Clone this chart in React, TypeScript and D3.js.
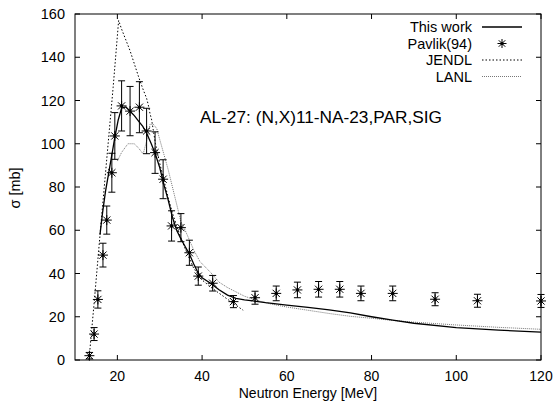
import React from "react";
import * as d3 from "d3";

// Pavlik (1994) measurement: energy [MeV], cross section [mb], uncertainty [mb]
const pavlikE = [13.4, 14.5, 15.4, 16.6, 17.5, 18.7, 19.4, 21.0, 23.0, 25.2, 26.9, 28.9, 30.8, 32.8, 35.0, 37.0, 39.1, 42.5, 47.4, 52.5, 57.5, 62.5, 67.5, 72.5, 77.5, 85.0, 95.0, 105.0, 120.0];
const pavlikSig = [2.0, 12.0, 28.0, 48.5, 64.7, 86.6, 103.6, 117.5, 115.1, 116.9, 105.9, 95.9, 83.6, 62.0, 61.2, 49.6, 38.8, 35.5, 27.0, 28.8, 30.8, 32.4, 32.7, 32.7, 30.8, 30.8, 28.1, 27.4, 27.3];
const pavlikErr = [1.5, 3.0, 4.0, 5.5, 6.5, 9.0, 10.8, 11.6, 11.4, 11.8, 10.5, 9.6, 9.0, 7.0, 6.5, 5.8, 4.2, 3.6, 2.8, 3.0, 3.4, 3.6, 3.6, 3.6, 3.4, 3.4, 3.0, 3.0, 3.0];

// This work (model calculation)
const thisE = [15.9, 16.5, 17.2, 18.0, 18.8, 19.4, 20.2, 21.0, 22.0, 23.0, 24.0, 25.0, 26.0, 27.0, 28.0, 29.0, 30.0, 31.0, 32.0, 33.0, 34.0, 35.0, 36.0, 37.0, 38.0, 39.0, 40.0, 42.0, 44.0, 46.0, 48.0, 50.0, 52.0, 55.0, 60.0, 65.0, 70.0, 75.0, 80.0, 85.0, 90.0, 100.0, 110.0, 120.0];
const thisSig = [58, 68, 78, 87, 96, 103, 111, 116.5, 117, 115, 113, 110.5, 108, 104.5, 100, 95, 89, 81, 74, 66, 60, 56, 52.5, 49, 44.5, 40.5, 38, 35.5, 32.5, 30, 28.5, 27.8, 27.3, 26.5, 25.4, 24.3, 23.2, 21.8, 20.0, 18.4, 17.0, 15.0, 13.8, 12.9];

// JENDL evaluation
const jendlE = [13.3, 14.5, 16.0, 17.5, 19.0, 20.3, 21.0, 22.0, 23.0, 24.0, 25.0, 26.0, 26.9, 27.3, 27.7, 28.1, 28.5, 29.0, 30.0, 31.0, 32.0, 33.0, 34.0, 35.0, 36.0, 37.0, 38.0, 40.0, 42.5, 45.0, 47.5, 49.7];
const jendlSig = [0, 26, 60, 93, 126, 157, 153, 148, 143, 137, 131, 125.5, 121, 118, 114, 111, 106, 100, 91, 83, 75, 68, 62, 56.5, 51.5, 47, 42.5, 37, 33, 29.5, 26, 23];

// LANL evaluation
const lanlE = [20.0, 21.0, 22.5, 24.0, 25.0, 26.1, 27.0, 27.7, 28.5, 29.3, 30.0, 31.0, 32.0, 33.0, 34.0, 35.0, 36.0, 37.0, 38.0, 39.5, 42.0, 44.0, 46.0, 48.0, 50.0, 53.0, 56.0, 60.0, 65.0, 70.0, 75.0, 80.0, 85.0, 90.0, 100.0, 110.0, 120.0];
const lanlSig = [92, 96, 100, 100, 98, 95.3, 102, 109, 109, 107, 102, 95, 88, 80, 72, 64, 60, 55.5, 51, 45.5, 40.5, 36, 33.5, 31.5, 29.5, 27.5, 26, 24.5, 23, 21.5, 20.2, 19.3, 18.3, 17.5, 16.2, 15.1, 14.2];

const xTicks = [20, 40, 60, 80, 100, 120];
const yTicks = [0, 20, 40, 60, 80, 100, 120, 140, 160];

const legendLabels = ["This work", "Pavlik(94)", "JENDL", "LANL"];
const annotation = "AL-27: (N,X)11-NA-23,PAR,SIG";
const xTitle = "Neutron Energy [MeV]";
const yTitle = "σ [mb]";

const W = 556;
const H = 406;
const left = 75;
const right = 541;
const top = 14;
const bottom = 360;
const FONT = "'Liberation Sans', Arial, Helvetica, sans-serif";
const FS = 14.5;

const x = d3.scaleLinear().domain([10, 120]).range([left, right]);
const y = d3.scaleLinear().domain([0, 160]).range([bottom, top]);

const lineGen = d3
  .line<[number, number]>()
  .x((d) => x(d[0]))
  .y((d) => y(d[1]));

const zip = (a: number[], b: number[]): [number, number][] => a.map((v, i) => [v, b[i]]);

function Star({ cx, cy, r = 5 }: { cx: number; cy: number; r?: number }) {
  const d = r * 0.72;
  return (
    <g stroke="#000" strokeWidth={1}>
      <line x1={cx - r} y1={cy} x2={cx + r} y2={cy} />
      <line x1={cx} y1={cy - r} x2={cx} y2={cy + r} />
      <line x1={cx - d} y1={cy - d} x2={cx + d} y2={cy + d} />
      <line x1={cx - d} y1={cy + d} x2={cx + d} y2={cy - d} />
      <circle cx={cx} cy={cy} r={1.6} fill="#000" stroke="none" />
    </g>
  );
}

export default function App() {
  const tick = 5;
  const legendTextX = 472;
  const legendSample: [number, number] = [482, 522];
  const legendRows = [27, 43.5, 60, 76.5];

  return (
    <svg
      width={W}
      height={H}
      style={{ position: "absolute", left: 0, top: 0, background: "#fff" }}
      fontFamily={FONT}
      fontSize={FS}
    >
      <rect x={0} y={0} width={W} height={H} fill="#fff" />

      {/* ticks, mirrored on all four sides */}
      <g stroke="#000" strokeWidth={1}>
        {xTicks.map((t) => (
          <g key={"xt" + t}>
            <line x1={x(t)} x2={x(t)} y1={bottom} y2={bottom - tick} />
            <line x1={x(t)} x2={x(t)} y1={top} y2={top + tick} />
          </g>
        ))}
        {yTicks.map((t) => (
          <g key={"yt" + t}>
            <line x1={left} x2={left + tick} y1={y(t)} y2={y(t)} />
            <line x1={right} x2={right - tick} y1={y(t)} y2={y(t)} />
          </g>
        ))}
      </g>

      {/* tick labels */}
      {xTicks.map((t) => (
        <text key={"xl" + t} x={x(t)} y={380.5} textAnchor="middle" fill="#000" fontSize={14}>
          {t}
        </text>
      ))}
      {yTicks.map((t) => (
        <text key={"yl" + t} x={65} y={y(t) + 5} textAnchor="end" fill="#000">
          {t}
        </text>
      ))}

      {/* axis titles */}
      <text x={(left + right) / 2} y={397.5} textAnchor="middle" fill="#000" fontSize={14}>
        {xTitle}
      </text>
      <text transform={`translate(20,188) rotate(-90)`} textAnchor="middle" fill="#000">
        {yTitle}
      </text>

      <text x={200} y={122.5} fill="#000" fontSize={16.5} textLength={242} lengthAdjust="spacingAndGlyphs">
        {annotation}
      </text>

      {/* evaluations and model */}
      <path
        d={lineGen(zip(jendlE, jendlSig)) || ""}
        fill="none"
        stroke="#000"
        strokeWidth={1}
        strokeDasharray="1.5,2"
      />
      <path
        d={lineGen(zip(lanlE, lanlSig)) || ""}
        fill="none"
        stroke="#777"
        strokeWidth={1}
        strokeDasharray="1,1"
      />
      <path
        d={lineGen(zip(thisE, thisSig)) || ""}
        fill="none"
        stroke="#000"
        strokeWidth={1.3}
      />

      {/* measured points with error bars */}
      {pavlikE.map((e, i) => {
        const cx = x(e);
        const y1 = y(pavlikSig[i] + pavlikErr[i]);
        const y2 = y(pavlikSig[i] - pavlikErr[i]);
        return (
          <g key={"p" + i}>
            <g stroke="#000" strokeWidth={1}>
              <line x1={cx} x2={cx} y1={y1} y2={y2} />
              <line x1={cx - 3.5} x2={cx + 3.5} y1={y1} y2={y1} />
              <line x1={cx - 3.5} x2={cx + 3.5} y1={y2} y2={y2} />
            </g>
            <Star cx={cx} cy={y(pavlikSig[i])} />
          </g>
        );
      })}

      {/* legend */}
      {legendLabels.map((lab, i) => (
        <text key={"lg" + i} x={legendTextX} y={legendRows[i] + 5} textAnchor="end" fill="#000">
          {lab}
        </text>
      ))}
      <line x1={legendSample[0]} x2={legendSample[1]} y1={legendRows[0]} y2={legendRows[0]} stroke="#000" strokeWidth={1.3} />
      <Star cx={(legendSample[0] + legendSample[1]) / 2} cy={legendRows[1]} r={4.5} />
      <line x1={legendSample[0]} x2={legendSample[1]} y1={legendRows[2]} y2={legendRows[2]} stroke="#000" strokeWidth={1} strokeDasharray="1.5,2" />
      <line x1={legendSample[0]} x2={legendSample[1]} y1={legendRows[3]} y2={legendRows[3]} stroke="#777" strokeWidth={1} strokeDasharray="1,1" />

      {/* frame */}
      <rect x={left} y={top} width={right - left} height={bottom - top} fill="none" stroke="#000" strokeWidth={1} />
    </svg>
  );
}
